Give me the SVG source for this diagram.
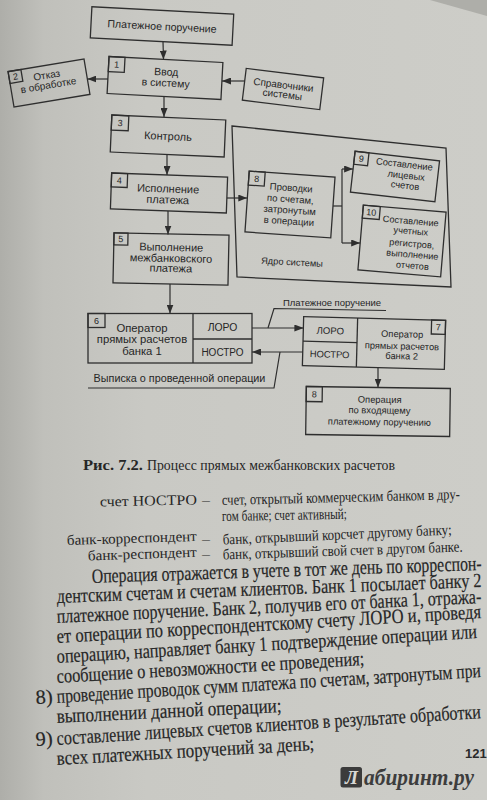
<svg xmlns="http://www.w3.org/2000/svg" width="487" height="800" viewBox="0 0 487 800">
<defs>
<linearGradient id="bg" x1="0" y1="0" x2="1" y2="0">
<stop offset="0" stop-color="#aeaea9"/>
<stop offset="0.09" stop-color="#c0c0bb"/>
<stop offset="0.3" stop-color="#c9c9c4"/>
<stop offset="1" stop-color="#cdcdc8"/>
</linearGradient>
<marker id="ah" viewBox="0 0 9 7" refX="9" refY="3.5" markerWidth="9" markerHeight="7" markerUnits="userSpaceOnUse" orient="auto">
<path d="M0,0 L9,3.5 L0,7 z" fill="#2e2e2e"/>
</marker>
<style>
.b{fill:none;stroke:#2e2e2e;stroke-width:1.3}
.c{fill:none;stroke:#2e2e2e;stroke-width:1.2}
.a{marker-end:url(#ah)}
.t{font-family:"Liberation Sans",Arial,sans-serif;fill:#262626;text-anchor:middle}
.num{font-family:"Liberation Sans",Arial,sans-serif;fill:#262626;font-size:9px;text-anchor:middle}
.s{font-family:"Liberation Serif","Times New Roman",serif;fill:#262626}
.p{font-size:15.8px;stroke:#262626;stroke-width:0.15}
.d{font-size:12.6px}
</style>
</defs>
<rect x="0" y="0" width="487" height="800" fill="url(#bg)"/>
<polygon points="430,0 487,0 487,16" fill="#9a9a95" opacity="0.6"/>

<g id="connectors">
<line class="c a" x1="163" y1="41.5" x2="163.5" y2="59.5"/>
<line class="c a" x1="108" y1="79" x2="87.4" y2="79"/>
<line class="c a" x1="244.7" y1="81" x2="222" y2="81"/>
<line class="c a" x1="164" y1="97" x2="164" y2="117"/>
<line class="c a" x1="167" y1="154" x2="167" y2="175"/>
<line class="c a" x1="227" y1="198" x2="247.3" y2="198"/>
<polyline class="c" points="333,206 342,206"/>
<line class="c" x1="342" y1="169" x2="342" y2="243"/>
<line class="c a" x1="342" y1="169" x2="353.1" y2="169"/>
<line class="c a" x1="342" y1="243" x2="360.2" y2="243"/>
<line class="c a" x1="168" y1="211" x2="168" y2="234.5"/>
<line class="c a" x1="170" y1="284" x2="170" y2="313.5"/>
<line class="c a" x1="252" y1="328" x2="303.4" y2="328"/>
<polyline class="c" points="268,328 274,308.5 386,310.5"/>
<line class="c a" x1="302.7" y1="352" x2="252" y2="352"/>
<polyline class="c" points="280,352 274,388 88,388"/>
<line class="c a" x1="378" y1="367.6" x2="378" y2="387.5"/>
<text class="t" x="332" y="306" font-size="9.5">Платежное поручение</text>
<text class="t" x="179.5" y="382" font-size="10.8">Выписка о проведенной операции</text>
</g>

<g id="n-pp" transform="translate(162,26) rotate(3)">
<rect class="b" x="-71" y="-15.5" width="142" height="31"/>
<text class="t" x="0" y="4" font-size="10.6">Платежное поручение</text>
</g>

<g id="n1" transform="translate(165,78) rotate(3)">
<rect class="b" x="-57" y="-18.5" width="114" height="37"/>
<rect class="b" x="-57" y="-18.5" width="16" height="15"/>
<text class="num" x="-49" y="-7.8">1</text>
<text class="t" x="1" y="-2.5" font-size="10.5">Ввод</text>
<text class="t" x="1" y="8.5" font-size="10.5">в систему</text>
</g>

<g id="n2" transform="translate(49,83) rotate(-9.5)">
<rect class="b" x="-38.5" y="-18" width="77" height="36"/>
<rect class="b" x="-38.5" y="-18" width="13" height="12"/>
<text class="num" x="-32" y="-8.8" font-size="8.5">2</text>
<text class="t" x="-1" y="-4.6" font-size="10">Отказ</text>
<text class="t" x="-1" y="5.4" font-size="10">в обработке</text>
</g>

<g id="n-sprav" transform="translate(283,89) rotate(7)">
<rect class="b" x="-39" y="-16" width="78" height="32"/>
<text class="t" x="0" y="-0.7" font-size="10">Справочники</text>
<text class="t" x="0" y="8.9" font-size="10">системы</text>
</g>

<g id="n3" transform="translate(168,136) rotate(2.5)">
<rect class="b" x="-57" y="-18.5" width="114" height="37"/>
<rect class="b" x="-57" y="-18.5" width="17" height="15"/>
<text class="num" x="-48.5" y="-7.8">3</text>
<text class="t" x="0" y="4" font-size="11">Контроль</text>
</g>

<g id="core">
<polygon class="b" points="232,126 446,148 451,287 237,277"/>
<text class="t" x="292" y="265.3" font-size="9.3" transform="rotate(3 292 262)">Ядро системы</text>
</g>

<g id="n4" transform="translate(169,193) rotate(2)">
<rect class="b" x="-58" y="-18" width="116" height="36"/>
<rect class="b" x="-58" y="-18" width="16" height="14"/>
<text class="num" x="-50" y="-7.8">4</text>
<text class="t" x="-1" y="-0.5" font-size="11">Исполнение</text>
<text class="t" x="-1" y="10.5" font-size="11">платежа</text>
</g>

<g id="n8" transform="translate(290,204.5) rotate(4)">
<rect class="b" x="-43" y="-30.5" width="86" height="61"/>
<rect class="b" x="-43" y="-30.5" width="16" height="14"/>
<text class="num" x="-35" y="-20.3">8</text>
<text class="t" x="0" y="-13.5" font-size="9.6">Проводки</text>
<text class="t" x="0" y="-2" font-size="9.6">по счетам,</text>
<text class="t" x="0" y="9" font-size="9.6">затронутым</text>
<text class="t" x="0" y="20" font-size="9.6">в операции</text>
</g>

<g id="n9" transform="translate(395,176.5) rotate(6.5)">
<rect class="b" x="-42.5" y="-20.5" width="85" height="41"/>
<rect class="b" x="-42.5" y="-20.5" width="14" height="13"/>
<text class="num" x="-35.5" y="-10.8">9</text>
<text class="t" x="8" y="-10" font-size="9.4">Составление</text>
<text class="t" x="11" y="1" font-size="9.4">лицевых</text>
<text class="t" x="11" y="11" font-size="9.4">счетов</text>
</g>

<g id="n10" transform="translate(402,241) rotate(4.8)">
<rect class="b" x="-41.5" y="-32.5" width="83" height="65"/>
<rect class="b" x="-41.5" y="-32.5" width="17" height="13"/>
<text class="num" x="-33" y="-22.8">10</text>
<text class="t" x="7" y="-17.5" font-size="9.2">Составление</text>
<text class="t" x="8" y="-7.5" font-size="9.2">учетных</text>
<text class="t" x="10" y="5" font-size="9.2">регистров,</text>
<text class="t" x="11.5" y="15.8" font-size="9.2">выполнение</text>
<text class="t" x="12.5" y="26.8" font-size="9.2">отчетов</text>
</g>

<g id="n5" transform="translate(171,259) rotate(1.2)">
<rect class="b" x="-57.5" y="-25" width="115" height="50"/>
<rect class="b" x="-57.5" y="-25" width="14" height="12"/>
<text class="num" x="-50.5" y="-15.8">5</text>
<text class="t" x="0" y="-8" font-size="11">Выполнение</text>
<text class="t" x="0" y="3" font-size="11">межбанковского</text>
<text class="t" x="0" y="13" font-size="11">платежа</text>
</g>

<g id="n6">
<rect class="b" x="88" y="313.5" width="164" height="49.5"/>
<rect class="b" x="88" y="313.5" width="17" height="14"/>
<text class="num" x="96.5" y="323.7">6</text>
<line class="b" x1="193" y1="313.5" x2="193" y2="363"/>
<line class="b" x1="193" y1="339" x2="252" y2="339"/>
<text class="t" x="142" y="331.7" font-size="11.3">Оператор</text>
<text class="t" x="142" y="343.3" font-size="11.3">прямых расчетов</text>
<text class="t" x="142" y="354.7" font-size="11.3">банка 1</text>
<text class="t" x="222.5" y="330.5" font-size="10.4">ЛОРО</text>
<text class="t" x="222.5" y="355.5" font-size="10">НОСТРО</text>
</g>

<g id="n7" transform="translate(374,343) rotate(1.5)">
<rect class="b" x="-71" y="-24.5" width="142" height="49"/>
<line class="b" x1="-17" y1="-24.5" x2="-17" y2="24.5"/>
<line class="b" x1="-71" y1="0" x2="-17" y2="0"/>
<rect class="b" x="57" y="-24.5" width="14" height="14"/>
<text class="num" x="64" y="-14.3">7</text>
<text class="t" x="-44" y="-7.8" font-size="9.6">ЛОРО</text>
<text class="t" x="-44" y="15.8" font-size="9.4">НОСТРО</text>
<text class="t" x="28" y="-6.4" font-size="9.3">Оператор</text>
<text class="t" x="28" y="5.6" font-size="9.3">прямых расчетов</text>
<text class="t" x="28" y="15.5" font-size="9.3">банка 2</text>
</g>

<g id="n8b" transform="translate(378,411.5) rotate(0.8)">
<rect class="b" x="-72" y="-24" width="144" height="48"/>
<rect class="b" x="-72" y="-24" width="16" height="15"/>
<text class="num" x="-64" y="-13.3">8</text>
<text class="t" x="1.5" y="-8.7" font-size="9.4">Операция</text>
<text class="t" x="1.5" y="2" font-size="9.4">по входящему</text>
<text class="t" x="1.5" y="13.7" font-size="9.4">платежному поручению</text>
</g>

<g id="caption">
<text class="s" x="83" y="469.5" font-size="14" font-weight="bold" textLength="60" lengthAdjust="spacingAndGlyphs">Рис. 7.2.</text>
<text class="s" x="147" y="469.5" font-size="14" textLength="248" lengthAdjust="spacingAndGlyphs">Процесс прямых межбанковских расчетов</text>
</g>

<g id="definitions" class="s">
<text class="d" font-size="14" transform="translate(100 506.5) rotate(-1.2) scale(1 1.15)" textLength="97" lengthAdjust="spacingAndGlyphs">счет НОСТРО</text>
<text class="d" transform="translate(202 505) scale(1 1.15)" textLength="8" lengthAdjust="spacingAndGlyphs">—</text>
<text class="d" transform="translate(222 505) rotate(-1.4) scale(1 1.2)" textLength="238" lengthAdjust="spacingAndGlyphs">счет, открытый коммерческим банком в дру-</text>
<text class="d" transform="translate(222 521) rotate(-1) scale(1 1.2)" textLength="125" lengthAdjust="spacingAndGlyphs">гом банке; счет активный;</text>
<text class="d" font-size="13.8" transform="translate(67 545) rotate(-1.8) scale(1 1.15)" textLength="130" lengthAdjust="spacingAndGlyphs">банк-корреспондент</text>
<text class="d" transform="translate(202 543.5) scale(1 1.15)" textLength="8" lengthAdjust="spacingAndGlyphs">—</text>
<text class="d" transform="translate(223 544.5) rotate(-2.5) scale(1 1.2)" textLength="229" lengthAdjust="spacingAndGlyphs">банк, открывший корсчет другому банку;</text>
<text class="d" font-size="13.8" transform="translate(88 560.5) rotate(-1.9) scale(1 1.15)" textLength="109" lengthAdjust="spacingAndGlyphs">банк-респондент</text>
<text class="d" transform="translate(202 559) scale(1 1.15)" textLength="8" lengthAdjust="spacingAndGlyphs">—</text>
<text class="d" transform="translate(223 559.5) rotate(-1.9) scale(1 1.2)" textLength="240" lengthAdjust="spacingAndGlyphs">банк, открывший свой счет в другом банке.</text>
</g>

<g id="body" class="s p">
<text transform="translate(92 583) rotate(-1.91) scale(1 1.28)" textLength="390" lengthAdjust="spacingAndGlyphs">Операция отражается в учете в тот же день по корреспон-</text>
<text transform="translate(57 603) rotate(-2.16) scale(1 1.28)" textLength="425" lengthAdjust="spacingAndGlyphs">дентским счетам и счетам клиентов. Банк 1 посылает банку 2</text>
<text transform="translate(57 623) rotate(-2.69) scale(1 1.28)" textLength="425" lengthAdjust="spacingAndGlyphs">платежное поручение. Банк 2, получив его от банка 1, отража-</text>
<text transform="translate(57 643) rotate(-3.37) scale(1 1.28)" textLength="425" lengthAdjust="spacingAndGlyphs">ет операции по корреспондентскому счету ЛОРО и, проведя</text>
<text transform="translate(57 663) rotate(-3.4) scale(1 1.28)" textLength="421" lengthAdjust="spacingAndGlyphs">операцию, направляет банку 1 подтверждение операции или</text>
<text transform="translate(57 683) rotate(-3.34) scale(1 1.28)" textLength="308" lengthAdjust="spacingAndGlyphs">сообщение о невозможности ее проведения;</text>
<text transform="translate(36 704) rotate(-3.5) scale(1 1.28)" textLength="17" lengthAdjust="spacingAndGlyphs">8)</text>
<text transform="translate(57 703) rotate(-3.5) scale(1 1.28)" textLength="425" lengthAdjust="spacingAndGlyphs">проведение проводок сумм платежа по счетам, затронутым при</text>
<text transform="translate(57 723) rotate(-2.8) scale(1 1.28)" textLength="225" lengthAdjust="spacingAndGlyphs">выполнении данной операции;</text>
<text transform="translate(36 746) rotate(-3.6) scale(1 1.28)" textLength="17" lengthAdjust="spacingAndGlyphs">9)</text>
<text transform="translate(57 745) rotate(-3.63) scale(1 1.28)" textLength="425" lengthAdjust="spacingAndGlyphs">составление лицевых счетов клиентов в результате обработки</text>
<text transform="translate(57 765) rotate(-3.33) scale(1 1.28)" textLength="258" lengthAdjust="spacingAndGlyphs">всех платежных поручений за день;</text>
</g>

<text x="465" y="758" font-family="Liberation Sans, Arial, sans-serif" font-weight="bold" font-size="13" fill="#2a2a2a">121</text>

<g id="logo">
<rect x="340.5" y="767" width="21.5" height="20.5" rx="2.5" fill="#3b3b3b"/>
<text x="351.5" y="784" text-anchor="middle" font-family="Liberation Serif, serif" font-weight="bold" font-style="italic" font-size="19" fill="#d8d8d4">Л</text>
<text x="364" y="785" font-family="Liberation Serif, serif" font-weight="bold" font-style="italic" font-size="23" fill="#3d3d3d" textLength="110" lengthAdjust="spacingAndGlyphs">абиринт.ру</text>
</g>
</svg>
